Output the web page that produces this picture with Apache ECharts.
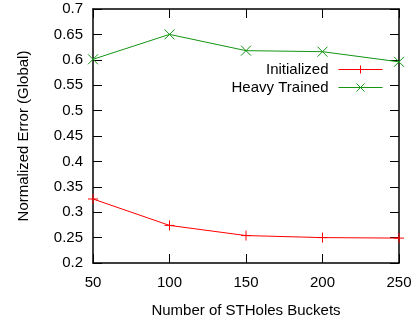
<!DOCTYPE html>
<html>
<head>
<meta charset="utf-8">
<script src="https://cdn.jsdelivr.net/npm/echarts@6/dist/echarts.min.js"></script>
<style>html,body{margin:0;padding:0;background:#fff}#c{width:416px;height:323px}</style>
</head>
<body>
<div id="c"></div>
<script>
var buckets = [50, 100, 150, 200, 250];
var initialized = [0.326, 0.274, 0.254, 0.250, 0.249];
var heavyTrained = [0.601, 0.650, 0.618, 0.616, 0.596];
var seriesNames = ['Initialized', 'Heavy Trained'];
var xTitle = 'Number of STHoles Buckets';
var yTitle = 'Normalized Error (Global)';

var RED = '#ff0000', GREEN = '#149514';
var FONT = 'Liberation Sans';
var plusPath = 'path://M5,0L5,10M0,5L10,5';
var crossPath = 'path://M0,0L10,10M10,0L0,10';

function pairs(xs, ys) { return xs.map(function (x, i) { return [x, ys[i]]; }); }

var axisLine = { show: true, lineStyle: { color: '#000', width: 1.5 } };
var tick = { show: true, inside: true, length: 9, lineStyle: { color: '#000', width: 1 } };

function legendFor(name, top) {
  return { data: [name], orient: 'vertical', align: 'right', right: 33, top: top, padding: 0,
    itemWidth: 44, itemHeight: 10, itemGap: 0, selectedMode: false,
    lineStyle: { width: 1 }, itemStyle: { borderWidth: 1 },
    textStyle: { fontFamily: FONT, fontSize: 15, color: '#000', padding: [0, 5, 0, 0] } };
}

var chart = echarts.init(document.getElementById('c'), null, { renderer: 'canvas' });
chart.setOption({
  animation: false,
  backgroundColor: '#fff',
  textStyle: { fontFamily: FONT },
  grid: { left: 93, right: 17, top: 9, bottom: 60 },
  legend: [ legendFor(seriesNames[0], 62), legendFor(seriesNames[1], 80) ],
  xAxis: [
    { type: 'value', min: 50, max: 250, interval: 50, position: 'bottom',
      name: xTitle, nameLocation: 'middle', nameGap: 40,
      nameTextStyle: { fontFamily: FONT, fontSize: 15, color: '#000' },
      axisLine: axisLine, axisTick: tick, splitLine: { show: false },
      axisLabel: { fontFamily: FONT, fontSize: 15, color: '#000', margin: 12 } },
    { type: 'value', min: 50, max: 250, interval: 50, position: 'top',
      axisLine: axisLine, axisTick: tick, splitLine: { show: false }, axisLabel: { show: false } }
  ],
  yAxis: [
    { type: 'value', min: 0.2, max: 0.7, interval: 0.05, position: 'left',
      name: yTitle, nameLocation: 'middle', nameGap: 62,
      nameTextStyle: { fontFamily: FONT, fontSize: 15, color: '#000' },
      axisLine: axisLine, axisTick: tick, splitLine: { show: false },
      axisLabel: { fontFamily: FONT, fontSize: 15, color: '#000', margin: 10 } },
    { type: 'value', min: 0.2, max: 0.7, interval: 0.05, position: 'right',
      axisLine: axisLine, axisTick: tick, splitLine: { show: false }, axisLabel: { show: false } }
  ],
  series: [
    { name: seriesNames[0], type: 'line', data: pairs(buckets, initialized),
      symbol: plusPath, symbolSize: 10, showAllSymbol: true,
      lineStyle: { color: RED, width: 1 },
      itemStyle: { color: 'none', borderColor: RED, borderWidth: 1 } },
    { name: seriesNames[1], type: 'line', data: pairs(buckets, heavyTrained),
      symbol: crossPath, symbolSize: 10, showAllSymbol: true,
      lineStyle: { color: GREEN, width: 1 },
      itemStyle: { color: 'none', borderColor: GREEN, borderWidth: 1 } }
  ]
});
</script>
</body>
</html>
